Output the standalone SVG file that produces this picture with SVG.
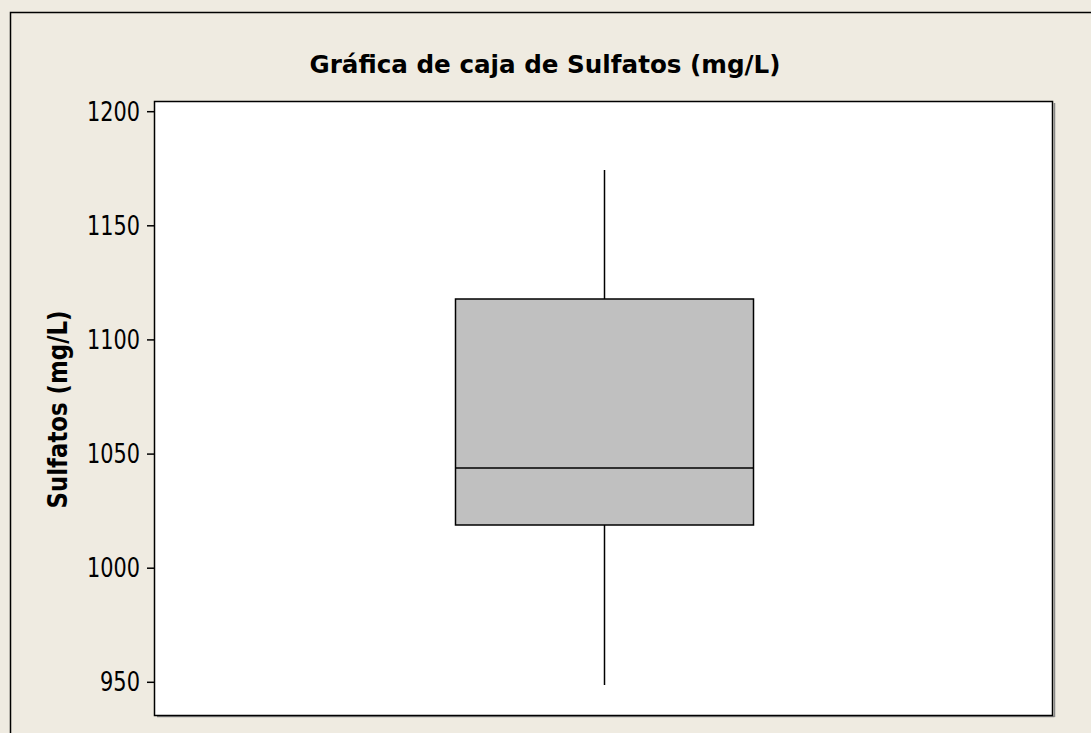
<svg xmlns="http://www.w3.org/2000/svg" width="1091" height="733" viewBox="0 0 1091 733">
<style>
.lbl{font-family:"DejaVu Sans","Liberation Sans",sans-serif;fill:#000}
.tick{font-family:"DejaVu Sans","Liberation Sans",sans-serif;fill:#000;font-size:26px}
.bold{font-weight:bold}
.ln{stroke:#000;stroke-width:1.5}
</style>
<rect x="0" y="0" width="1091" height="733" fill="#EFEBE1"/>
<rect x="10.5" y="12.5" width="1200" height="800" fill="none" stroke="#000" stroke-width="1.5"/>
<g id="title">
<text class="lbl bold" x="545" y="73" text-anchor="middle" font-size="24" textLength="471" lengthAdjust="spacingAndGlyphs">Gráfica de caja de Sulfatos (mg/L)</text>
</g>
<g id="plot-area">
<line x1="1054.5" y1="103" x2="1054.5" y2="717" stroke="#888" stroke-width="1.5"/>
<line x1="157" y1="716.5" x2="1054.5" y2="716.5" stroke="#888" stroke-width="1.5"/>
<rect x="154.5" y="101.5" width="898" height="614" fill="#FFFFFF" class="ln"/>
</g>
<g id="y-axis">
<g class="ln">
<line x1="147" y1="111.7" x2="154.5" y2="111.7"/>
<line x1="147" y1="225.8" x2="154.5" y2="225.8"/>
<line x1="147" y1="339.9" x2="154.5" y2="339.9"/>
<line x1="147" y1="454.1" x2="154.5" y2="454.1"/>
<line x1="147" y1="568.2" x2="154.5" y2="568.2"/>
<line x1="147" y1="682.3" x2="154.5" y2="682.3"/>
</g>
<text class="tick" x="140" y="120.5" text-anchor="end" textLength="53" lengthAdjust="spacingAndGlyphs">1200</text>
<text class="tick" x="140" y="234.7" text-anchor="end" textLength="53" lengthAdjust="spacingAndGlyphs">1150</text>
<text class="tick" x="140" y="348.8" text-anchor="end" textLength="53" lengthAdjust="spacingAndGlyphs">1100</text>
<text class="tick" x="140" y="463" text-anchor="end" textLength="53" lengthAdjust="spacingAndGlyphs">1050</text>
<text class="tick" x="140" y="577" text-anchor="end" textLength="53" lengthAdjust="spacingAndGlyphs">1000</text>
<text class="tick" x="140" y="691" text-anchor="end" textLength="40" lengthAdjust="spacingAndGlyphs">950</text>
<text class="lbl bold" font-size="27" x="0" y="0" transform="translate(67,409.5) rotate(-90)" text-anchor="middle" textLength="198" lengthAdjust="spacingAndGlyphs">Sulfatos (mg/L)</text>
</g>
<g id="boxplot">
<line class="ln" x1="604.5" y1="170" x2="604.5" y2="299"/>
<line class="ln" x1="604.5" y1="525" x2="604.5" y2="685"/>
<rect x="455.5" y="299" width="298" height="226" fill="#C0C0C0" class="ln"/>
<line class="ln" x1="455.5" y1="468" x2="753.5" y2="468"/>
</g>
</svg>
